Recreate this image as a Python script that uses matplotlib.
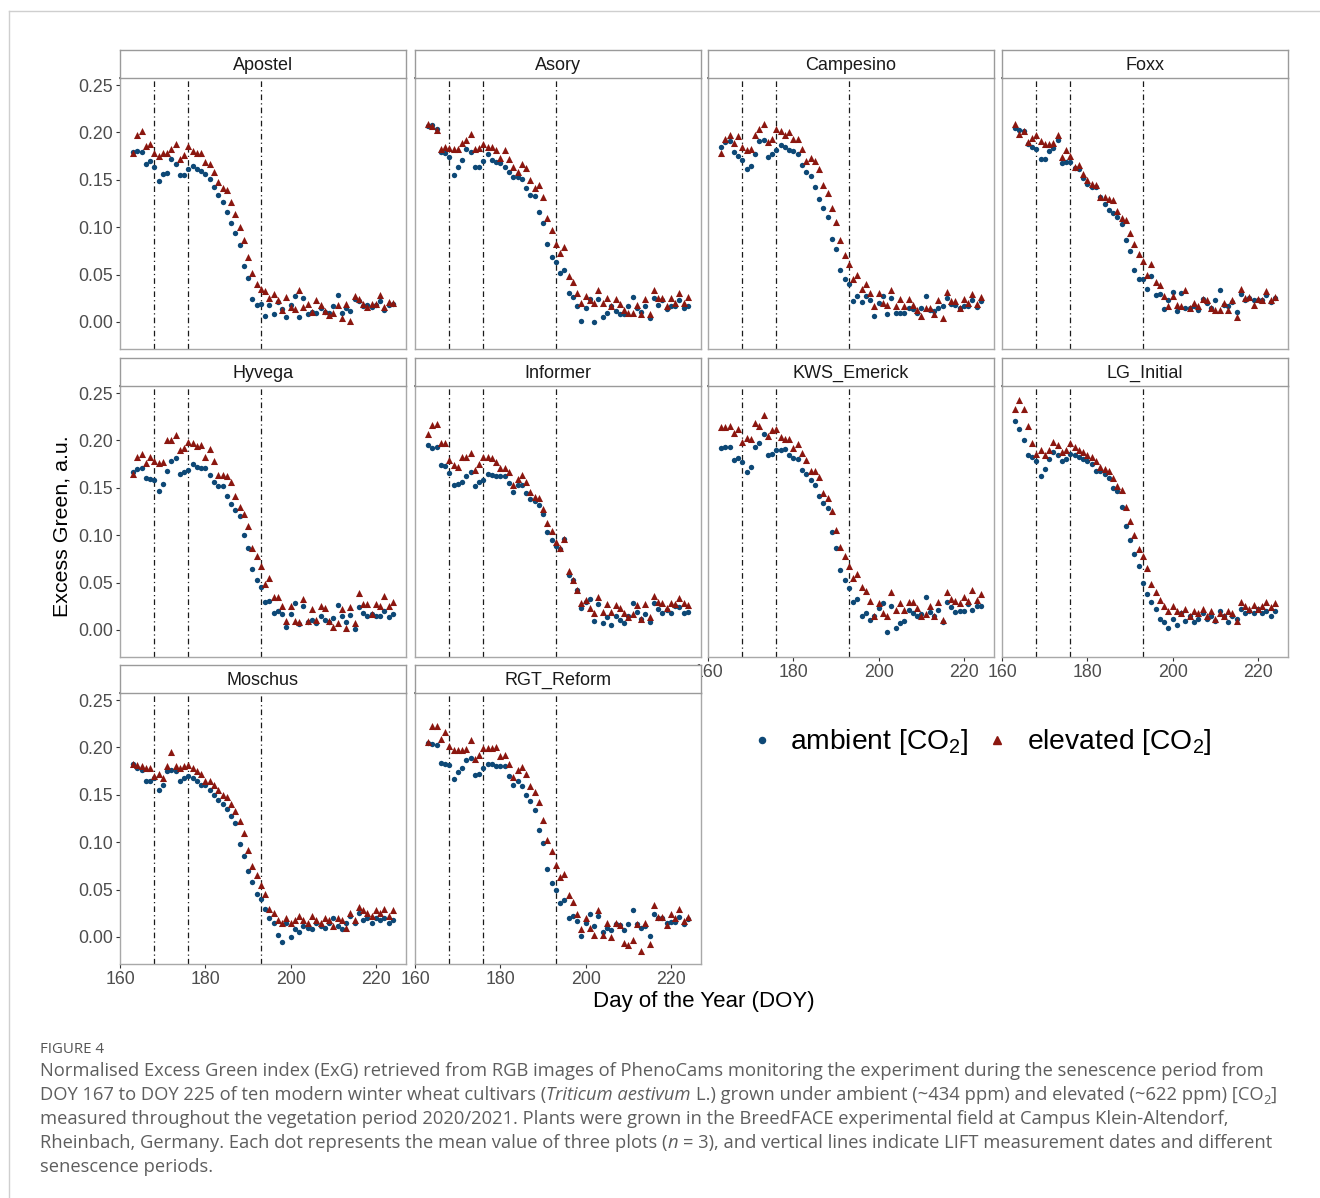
import matplotlib
matplotlib.use("Agg")
import matplotlib.pyplot as plt
from matplotlib.lines import Line2D

plt.rcParams["font.family"] = ["Liberation Sans", "DejaVu Sans"]
plt.rcParams["mathtext.fontset"] = "custom"
plt.rcParams["mathtext.rm"] = "Liberation Sans"
plt.rcParams["mathtext.it"] = "Liberation Sans:italic"

# ---------------------------------------------------------------- data
doy = list(range(163, 225))
cultivars = ["Apostel", "Asory", "Campesino", "Foxx", "Hyvega", "Informer",
             "KWS_Emerick", "LG_Initial", "Moschus", "RGT_Reform"]
lift_dates = [168, 176, 193]

apostel_amb = [0.179, 0.180, 0.179, 0.167, 0.170, 0.164, 0.149, 0.156, 0.157, 0.172,
               0.167, 0.155, 0.155, 0.161, 0.165, 0.161, 0.159, 0.156, 0.151, 0.142,
               0.134, 0.127, 0.116, 0.104, 0.094, 0.081, 0.059, 0.046, 0.024, 0.018,
               0.019, 0.006, 0.018, 0.008, 0.021, 0.014, 0.005, 0.018, 0.027, 0.005,
               0.025, 0.008, 0.011, 0.009, 0.015, 0.011, 0.010, 0.017, 0.028, 0.010,
               0.015, 0.012, 0.024, 0.022, 0.017, 0.018, 0.016, 0.018, 0.022, 0.013,
               0.018, 0.019]
apostel_elev = [0.178, 0.197, 0.201, 0.186, 0.188, 0.178, 0.175, 0.178, 0.178, 0.183,
                0.188, 0.172, 0.176, 0.186, 0.180, 0.178, 0.178, 0.169, 0.167, 0.158,
                0.148, 0.141, 0.139, 0.127, 0.114, 0.100, 0.086, 0.069, 0.052, 0.040,
                0.035, 0.033, 0.025, 0.029, 0.023, 0.013, 0.026, 0.016, 0.014, 0.034,
                0.016, 0.019, 0.011, 0.023, 0.018, 0.012, 0.007, 0.009, 0.018, 0.004,
                0.019, 0.001, 0.027, 0.024, 0.019, 0.016, 0.019, 0.019, 0.028, 0.016,
                0.021, 0.020]

asory_amb = [0.207, 0.208, 0.204, 0.179, 0.178, 0.174, 0.155, 0.163, 0.171, 0.182,
             0.179, 0.164, 0.164, 0.170, 0.177, 0.171, 0.169, 0.168, 0.164, 0.158,
             0.153, 0.153, 0.151, 0.141, 0.134, 0.133, 0.116, 0.104, 0.082, 0.069,
             0.063, 0.052, 0.055, 0.031, 0.026, 0.017, 0.001, 0.015, 0.024, 0.000,
             0.024, 0.005, 0.009, 0.017, 0.012, 0.008, 0.008, 0.017, 0.026, 0.015,
             0.011, 0.017, 0.004, 0.025, 0.018, 0.023, 0.014, 0.017, 0.017, 0.023,
             0.015, 0.017]
asory_elev = [0.209, 0.207, 0.203, 0.182, 0.185, 0.184, 0.182, 0.182, 0.189, 0.192,
              0.198, 0.182, 0.184, 0.188, 0.185, 0.185, 0.181, 0.173, 0.181, 0.172,
              0.164, 0.158, 0.167, 0.162, 0.150, 0.141, 0.144, 0.132, 0.110, 0.097,
              0.082, 0.073, 0.079, 0.049, 0.042, 0.031, 0.020, 0.027, 0.023, 0.020,
              0.034, 0.020, 0.025, 0.017, 0.024, 0.019, 0.013, 0.009, 0.009, 0.018,
              0.008, 0.024, 0.008, 0.034, 0.025, 0.025, 0.017, 0.025, 0.020, 0.031,
              0.020, 0.026]

campesino_amb = [0.185, 0.190, 0.191, 0.179, 0.175, 0.171, 0.161, 0.165, 0.177, 0.191,
                 0.192, 0.174, 0.177, 0.181, 0.187, 0.185, 0.181, 0.180, 0.177, 0.166,
                 0.158, 0.154, 0.142, 0.130, 0.120, 0.111, 0.088, 0.077, 0.055, 0.045,
                 0.040, 0.022, 0.027, 0.021, 0.027, 0.023, 0.006, 0.020, 0.027, 0.008,
                 0.025, 0.009, 0.009, 0.010, 0.015, 0.014, 0.010, 0.015, 0.027, 0.013,
                 0.012, 0.015, 0.017, 0.025, 0.019, 0.018, 0.015, 0.017, 0.017, 0.023,
                 0.016, 0.022]
campesino_elev = [0.178, 0.193, 0.197, 0.189, 0.196, 0.185, 0.181, 0.183, 0.197, 0.204,
                  0.209, 0.190, 0.193, 0.204, 0.202, 0.197, 0.200, 0.193, 0.193, 0.183,
                  0.170, 0.173, 0.170, 0.161, 0.145, 0.136, 0.120, 0.105, 0.087, 0.071,
                  0.061, 0.045, 0.050, 0.035, 0.040, 0.031, 0.017, 0.031, 0.020, 0.018,
                  0.034, 0.017, 0.024, 0.017, 0.024, 0.018, 0.013, 0.006, 0.015, 0.015,
                  0.008, 0.023, 0.004, 0.032, 0.022, 0.022, 0.015, 0.024, 0.020, 0.029,
                  0.019, 0.026]

foxx_amb = [0.205, 0.203, 0.201, 0.188, 0.185, 0.182, 0.172, 0.172, 0.180, 0.184,
            0.192, 0.168, 0.169, 0.169, 0.162, 0.161, 0.152, 0.146, 0.142, 0.142,
            0.132, 0.124, 0.118, 0.115, 0.111, 0.103, 0.087, 0.075, 0.055, 0.045,
            0.045, 0.035, 0.048, 0.028, 0.030, 0.014, 0.023, 0.032, 0.012, 0.031,
            0.015, 0.015, 0.017, 0.013, 0.024, 0.020, 0.015, 0.023, 0.034, 0.018,
            0.017, 0.021, 0.011, 0.030, 0.023, 0.025, 0.023, 0.023, 0.023, 0.028,
            0.021, 0.025]
foxx_elev = [0.209, 0.198, 0.202, 0.190, 0.194, 0.197, 0.191, 0.188, 0.188, 0.189,
             0.197, 0.174, 0.181, 0.175, 0.164, 0.166, 0.156, 0.150, 0.146, 0.144,
             0.132, 0.132, 0.130, 0.129, 0.117, 0.110, 0.108, 0.094, 0.082, 0.072,
             0.064, 0.050, 0.061, 0.042, 0.039, 0.027, 0.017, 0.027, 0.018, 0.017,
             0.034, 0.015, 0.020, 0.017, 0.024, 0.023, 0.015, 0.013, 0.013, 0.020,
             0.013, 0.023, 0.005, 0.035, 0.025, 0.026, 0.018, 0.024, 0.023, 0.033,
             0.023, 0.026]

hyvega_amb = [0.167, 0.170, 0.171, 0.160, 0.159, 0.158, 0.147, 0.154, 0.168, 0.178,
              0.181, 0.165, 0.167, 0.169, 0.175, 0.172, 0.171, 0.171, 0.164, 0.156,
              0.152, 0.152, 0.141, 0.133, 0.127, 0.120, 0.100, 0.087, 0.064, 0.053,
              0.045, 0.030, 0.031, 0.018, 0.020, 0.017, 0.003, 0.017, 0.028, 0.006,
              0.025, 0.008, 0.011, 0.007, 0.015, 0.011, 0.008, 0.013, 0.026, 0.015,
              0.008, 0.016, 0.001, 0.024, 0.018, 0.015, 0.017, 0.015, 0.015, 0.020,
              0.014, 0.017]
hyvega_elev = [0.165, 0.182, 0.186, 0.176, 0.182, 0.178, 0.176, 0.177, 0.200, 0.200,
               0.206, 0.190, 0.192, 0.198, 0.197, 0.194, 0.195, 0.182, 0.191, 0.178,
               0.163, 0.163, 0.162, 0.156, 0.141, 0.130, 0.122, 0.110, 0.087, 0.078,
               0.068, 0.048, 0.055, 0.035, 0.035, 0.025, 0.010, 0.025, 0.009, 0.008,
               0.033, 0.010, 0.022, 0.011, 0.025, 0.023, 0.009, 0.003, 0.007, 0.022,
               0.002, 0.024, 0.007, 0.039, 0.027, 0.027, 0.017, 0.027, 0.025, 0.036,
               0.025, 0.029]

informer_amb = [0.195, 0.192, 0.193, 0.174, 0.173, 0.166, 0.153, 0.154, 0.156, 0.162,
                0.167, 0.152, 0.156, 0.158, 0.165, 0.163, 0.162, 0.162, 0.162, 0.155,
                0.146, 0.153, 0.153, 0.144, 0.138, 0.136, 0.132, 0.122, 0.103, 0.095,
                0.089, 0.085, 0.096, 0.058, 0.053, 0.042, 0.023, 0.030, 0.033, 0.009,
                0.027, 0.007, 0.014, 0.005, 0.015, 0.011, 0.007, 0.015, 0.028, 0.019,
                0.012, 0.017, 0.008, 0.028, 0.022, 0.018, 0.021, 0.018, 0.025, 0.024,
                0.018, 0.019]
informer_elev = [0.207, 0.216, 0.217, 0.197, 0.197, 0.179, 0.174, 0.172, 0.182, 0.182,
                 0.187, 0.169, 0.175, 0.182, 0.182, 0.181, 0.177, 0.171, 0.171, 0.167,
                 0.153, 0.159, 0.163, 0.156, 0.146, 0.140, 0.139, 0.128, 0.113, 0.104,
                 0.093, 0.086, 0.096, 0.062, 0.053, 0.042, 0.028, 0.032, 0.023, 0.018,
                 0.035, 0.019, 0.027, 0.019, 0.026, 0.023, 0.018, 0.014, 0.017, 0.026,
                 0.012, 0.027, 0.014, 0.036, 0.030, 0.028, 0.023, 0.028, 0.027, 0.034,
                 0.028, 0.026]

kws_amb = [0.192, 0.193, 0.193, 0.179, 0.181, 0.177, 0.167, 0.172, 0.193, 0.197,
           0.207, 0.185, 0.186, 0.190, 0.190, 0.191, 0.185, 0.181, 0.180, 0.169,
           0.165, 0.158, 0.153, 0.141, 0.134, 0.129, 0.103, 0.087, 0.063, 0.053,
           0.044, 0.029, 0.033, 0.015, 0.018, 0.011, 0.015, 0.023, 0.028, -0.002,
           0.025, 0.002, 0.007, 0.009, 0.021, 0.018, 0.015, 0.017, 0.035, 0.019,
           0.015, 0.021, 0.008, 0.030, 0.024, 0.019, 0.020, 0.020, 0.027, 0.021,
           0.025, 0.025]
kws_elev = [0.214, 0.214, 0.215, 0.208, 0.212, 0.198, 0.203, 0.201, 0.218, 0.215,
            0.227, 0.205, 0.211, 0.212, 0.204, 0.202, 0.202, 0.192, 0.196, 0.187,
            0.179, 0.168, 0.168, 0.161, 0.144, 0.139, 0.125, 0.106, 0.088, 0.078,
            0.067, 0.055, 0.059, 0.045, 0.041, 0.031, 0.015, 0.028, 0.018, 0.015,
            0.040, 0.021, 0.028, 0.021, 0.029, 0.029, 0.023, 0.015, 0.017, 0.025,
            0.015, 0.030, 0.011, 0.040, 0.033, 0.031, 0.028, 0.035, 0.031, 0.042,
            0.032, 0.038]

lg_amb = [0.220, 0.212, 0.200, 0.185, 0.183, 0.178, 0.162, 0.170, 0.180, 0.188,
          0.185, 0.178, 0.180, 0.186, 0.185, 0.182, 0.180, 0.178, 0.175, 0.168,
          0.168, 0.165, 0.160, 0.150, 0.147, 0.130, 0.110, 0.095, 0.080, 0.068,
          0.050, 0.038, 0.030, 0.022, 0.012, 0.008, 0.002, 0.012, 0.005, 0.018,
          0.010, 0.015, 0.008, 0.012, 0.018, 0.012, 0.015, 0.010, 0.020, 0.015,
          0.008, 0.015, 0.012, 0.022, 0.018, 0.020, 0.018, 0.022, 0.018, 0.020,
          0.015, 0.020]
lg_elev = [0.233, 0.243, 0.233, 0.215, 0.197, 0.186, 0.190, 0.185, 0.190, 0.198,
           0.195, 0.188, 0.190, 0.197, 0.193, 0.190, 0.188, 0.185, 0.183, 0.178,
           0.172, 0.170, 0.168, 0.160, 0.152, 0.148, 0.130, 0.115, 0.100, 0.085,
           0.078, 0.065, 0.048, 0.040, 0.032, 0.025, 0.020, 0.025, 0.020, 0.018,
           0.022, 0.015, 0.020, 0.018, 0.022, 0.015, 0.020, 0.012, 0.018, 0.015,
           0.020, 0.018, 0.010, 0.030, 0.025, 0.022, 0.026, 0.022, 0.025, 0.030,
           0.024, 0.028]

moschus_amb = [0.182, 0.178, 0.176, 0.165, 0.165, 0.168, 0.155, 0.160, 0.175, 0.176,
               0.175, 0.165, 0.168, 0.170, 0.168, 0.165, 0.160, 0.160, 0.155, 0.150,
               0.145, 0.140, 0.135, 0.128, 0.120, 0.098, 0.085, 0.070, 0.058, 0.045,
               0.040, 0.030, 0.020, 0.015, 0.002, -0.005, 0.015, 0.000, 0.008, 0.005,
               0.012, 0.010, 0.008, 0.015, 0.012, 0.010, 0.015, 0.020, 0.012, 0.008,
               0.015, 0.022, 0.015, 0.025, 0.018, 0.020, 0.015, 0.020, 0.018, 0.020,
               0.015, 0.018]
moschus_elev = [0.183, 0.181, 0.180, 0.178, 0.178, 0.170, 0.172, 0.168, 0.180, 0.195,
                0.180, 0.178, 0.180, 0.181, 0.178, 0.175, 0.172, 0.165, 0.165, 0.160,
                0.155, 0.150, 0.148, 0.140, 0.133, 0.122, 0.110, 0.092, 0.075, 0.065,
                0.055, 0.045, 0.030, 0.025, 0.018, 0.015, 0.020, 0.015, 0.018, 0.022,
                0.018, 0.015, 0.022, 0.018, 0.015, 0.020, 0.018, 0.012, 0.020, 0.018,
                0.010, 0.025, 0.018, 0.032, 0.028, 0.025, 0.022, 0.028, 0.025, 0.030,
                0.022, 0.028]

rgt_amb = [0.205, 0.204, 0.203, 0.184, 0.183, 0.181, 0.167, 0.174, 0.178, 0.187,
           0.189, 0.171, 0.172, 0.178, 0.182, 0.182, 0.180, 0.180, 0.180, 0.170,
           0.160, 0.165, 0.159, 0.150, 0.143, 0.134, 0.113, 0.099, 0.072, 0.057,
           0.050, 0.036, 0.039, 0.020, 0.022, 0.017, 0.001, 0.015, 0.024, 0.012,
           0.022, 0.005, 0.009, 0.007, 0.014, 0.013, 0.007, 0.014, 0.028, 0.014,
           0.009, 0.012, 0.001, 0.024, 0.020, 0.020, 0.015, 0.016, 0.016, 0.021,
           0.014, 0.019]
rgt_elev = [0.206, 0.223, 0.223, 0.209, 0.216, 0.201, 0.197, 0.197, 0.197, 0.198,
            0.208, 0.188, 0.192, 0.199, 0.199, 0.199, 0.200, 0.191, 0.192, 0.183,
            0.169, 0.176, 0.179, 0.172, 0.159, 0.153, 0.142, 0.123, 0.102, 0.091,
            0.076, 0.063, 0.066, 0.044, 0.037, 0.024, 0.008, 0.020, 0.009, 0.002,
            0.028, 0.002, 0.015, 0.000, 0.015, 0.013, -0.006, -0.008, -0.003, 0.014,
            -0.015, 0.015, -0.007, 0.034, 0.021, 0.021, 0.013, 0.024, 0.020, 0.030,
            0.017, 0.021]

ambient = [apostel_amb, asory_amb, campesino_amb, foxx_amb, hyvega_amb,
           informer_amb, kws_amb, lg_amb, moschus_amb, rgt_amb]
elevated = [apostel_elev, asory_elev, campesino_elev, foxx_elev, hyvega_elev,
            informer_elev, kws_elev, lg_elev, moschus_elev, rgt_elev]

x_ticks = [160, 180, 200, 220]
y_ticks = [0.00, 0.05, 0.10, 0.15, 0.20, 0.25]

# ---------------------------------------------------------------- style
C_AMB = "#0d4876"
C_ELEV = "#8b1710"
TICK_COL = "#4d4d4d"
W, H = 1320, 1198

fig = plt.figure(figsize=(W / 100, H / 100), dpi=100)
fig.patch.set_facecolor("white")

col_left = [120, 415, 708, 1002]
row_top = [78, 386, 693]
panel_w, panel_h, strip_h = 286, 271, 28


def rect(x, y, w, h):
    return [x / W, 1 - (y + h) / H, w / W, h / H]


n_cols = 4
n_panels = len(cultivars)
for i, name in enumerate(cultivars):
    r, c = divmod(i, n_cols)
    ax = fig.add_axes(rect(col_left[c], row_top[r], panel_w, panel_h))
    ax.set_xlim(159.95, 227.05)
    ax.set_ylim(-0.0285, 0.2574)
    for d in lift_dates:
        ax.axvline(d, color="#1a1a1a", lw=0.9, ls=(0, (4.5, 2.5, 1.0, 2.5)), zorder=1)
    ax.scatter(doy, ambient[i], s=15, marker="o", color=C_AMB, linewidths=0, zorder=3)
    ax.scatter(doy, elevated[i], s=26, marker="^", color=C_ELEV, linewidths=0, zorder=4)

    for side, sp in ax.spines.items():
        sp.set_color("#a8a8a8")
        sp.set_linewidth(1.0)
    ax.spines["top"].set_color("#7a7a7a")
    ax.spines["top"].set_linewidth(1.4)

    ax.set_xticks(x_ticks)
    ax.set_yticks(y_ticks)
    ax.tick_params(length=3, width=0.8, color="#333333", labelcolor=TICK_COL,
                   labelsize=12.8, pad=2)
    # Outer axes only, like facet_wrap
    below_empty = (i + n_cols) >= n_panels
    if below_empty:
        ax.set_xticklabels([str(t) for t in x_ticks])
    else:
        ax.tick_params(axis="x", length=0, labelbottom=False)
    if c == 0:
        ax.set_yticklabels([f"{t:.2f}" for t in y_ticks])
    else:
        ax.tick_params(axis="y", length=0, labelleft=False)

    # facet strip
    sx = fig.add_axes(rect(col_left[c], row_top[r] - strip_h, panel_w, strip_h))
    sx.set_xticks([])
    sx.set_yticks([])
    sx.set_facecolor("white")
    for sp in sx.spines.values():
        sp.set_color("#9a9a9a")
        sp.set_linewidth(1.0)
    sx.text(0.5, 0.45, name, ha="center", va="center", fontsize=13,
            color="#1a1a1a", transform=sx.transAxes)

# axis titles
fig.text(704 / W, 1 - 1001 / H, "Day of the Year (DOY)", ha="center", va="center",
         fontsize=16, color="black")
fig.text(62 / W, 1 - 526 / H, "Excess Green, a.u.", ha="center", va="center",
         rotation=90, fontsize=15.4, color="black")

# legend
fig.add_artist(Line2D([762 / W], [1 - 740 / H], marker="o", markersize=4.4,
                      color=C_AMB, linestyle="none", transform=fig.transFigure))
fig.add_artist(Line2D([997 / W], [1 - 740 / H], marker="^", markersize=5.4,
                      color=C_ELEV, linestyle="none", transform=fig.transFigure))
fig.text(790 / W, 1 - 749 / H, r"ambient [CO$_2$]", ha="left", va="baseline",
         fontsize=20.3, color="black")
fig.text(1027 / W, 1 - 749 / H, r"elevated [CO$_2$]", ha="left", va="baseline",
         fontsize=20.3, color="black")

# card frame
fig.add_artist(Line2D([9 / W, 1.0], [1 - 11 / H, 1 - 11 / H], color="#cfcfcf",
                      lw=1.0, transform=fig.transFigure))
fig.add_artist(Line2D([9 / W, 9 / W], [1 - 11 / H, 0.0], color="#cfcfcf",
                      lw=1.0, transform=fig.transFigure))

# ---------------------------------------------------------------- caption
renderer = fig.canvas.get_renderer()
CAP_FONT = "Open Sans"
CAP_SIZE = 13.2
CAP_COL = "#5e5e5e"


def text_width(s, **kw):
    t = fig.text(0, 0, s, **kw)
    w = t.get_window_extent(renderer).width
    t.remove()
    return w


def space_width(**kw):
    return text_width("x x", **kw) - text_width("xx", **kw)


def draw_runs(x_px, y_px, runs):
    x = x_px
    for s, style in runs:
        kw = dict(family=CAP_FONT, fontsize=CAP_SIZE, color=CAP_COL)
        dy = style.get("dy", 0)
        kw.update({k: v for k, v in style.items() if k != "dy"})
        lead = len(s) - len(s.lstrip(" "))
        trail = len(s) - len(s.rstrip(" "))
        core = s.strip(" ")
        sw = space_width(**kw)
        x += lead * sw
        t = fig.text(x / W, 1 - (y_px + dy) / H, core, ha="left", va="baseline", **kw)
        x += t.get_window_extent(renderer).width + trail * sw


fig.text(40 / W, 1 - 1053 / H, "FIGURE 4", family=CAP_FONT, fontsize=10.8,
         color="#555555", ha="left", va="baseline")
plain = {}
ital = {"style": "italic"}
sub = {"fontsize": CAP_SIZE * 0.7, "dy": 4}
lines = [
    [("Normalised Excess Green index (ExG) retrieved from RGB images of PhenoCams "
      "monitoring the experiment during the senescence period from", plain)],
    [("DOY 167 to DOY 225 of ten modern winter wheat cultivars (", plain),
     ("Triticum aestivum", ital),
     (" L.) grown under ambient (~434 ppm) and elevated (~622 ppm) [CO", plain),
     ("2", sub), ("]", plain)],
    [("measured throughout the vegetation period 2020/2021. Plants were grown in the "
      "BreedFACE experimental field at Campus Klein-Altendorf,", plain)],
    [("Rheinbach, Germany. Each dot represents the mean value of three plots (", plain),
     ("n", ital),
     (" = 3), and vertical lines indicate LIFT measurement dates and different", plain)],
    [("senescence periods.", plain)],
]
for k, runs in enumerate(lines):
    draw_runs(40, 1076 + 24 * k, runs)

fig.savefig("out.png", dpi=100, facecolor="white")
